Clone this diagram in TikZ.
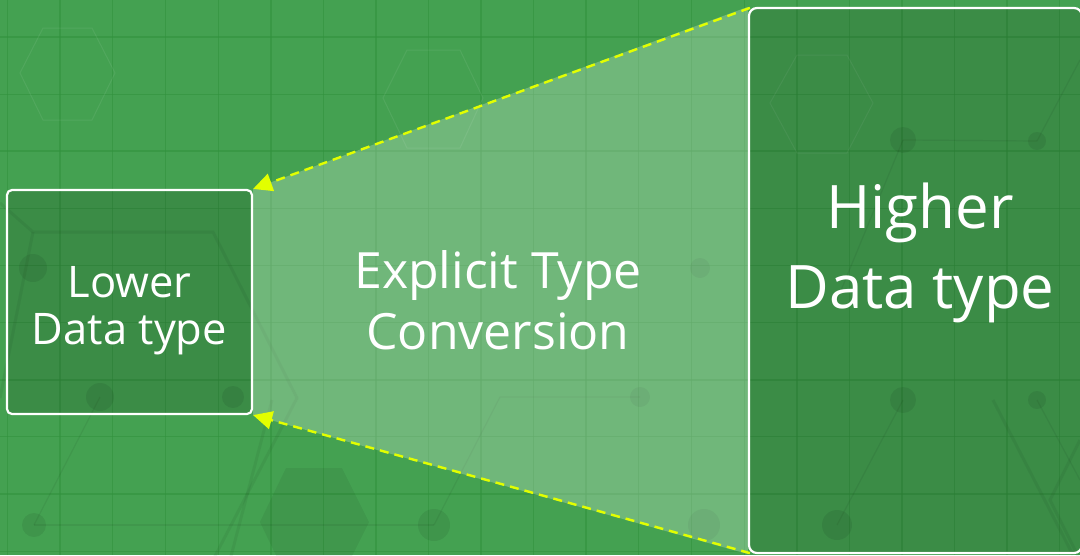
\documentclass[tikz,border=0pt]{standalone}
\usepackage{fontspec}
\setmainfont{Open Sans}
\usetikzlibrary{arrows.meta}
\definecolor{bggreen}{RGB}{68,161,81}
\definecolor{gridgreen}{RGB}{48,146,60}
\definecolor{arrowyellow}{RGB}{226,255,0}
\tikzset{
  databox/.style={draw=white, line width=2.2pt, rounded corners=5pt, fill=black, fill opacity=0.13, inner sep=0pt},
  boxtext/.style={text=white, align=center, inner sep=0pt},
  convarrow/.style={draw=arrowyellow, line width=2.4pt, dash pattern=on 9pt off 6pt,
    -{Triangle[length=19pt,width=18pt,fill=arrowyellow]}},
  gridline/.style={draw=gridgreen, line width=1pt, opacity=0.55},
  gridthick/.style={draw=gridgreen, line width=1.8pt, opacity=0.55},
  hexline/.style={draw=white, line width=1pt, opacity=0.07},
  bigline/.style={draw=black, line width=3pt, opacity=0.05},
  thinline/.style={draw=black, line width=1.2pt, opacity=0.06},
  dot/.style={fill=black, opacity=0.07},
}
\begin{document}
\begin{tikzpicture}[x=1pt,y=-1pt]
\useasboundingbox (0,0) rectangle (1080,555);
\clip (0,0) rectangle (1080,555);
\fill[bggreen] (0,0) rectangle (1080,555);
% grid
\foreach \i in {0,...,20} {
  \pgfmathsetmacro{\xx}{7.6+52.6*\i}
  \ifodd\i \draw[gridthick] (\xx,0) -- (\xx,555); \else \draw[gridline] (\xx,0) -- (\xx,555); \fi
}
\foreach \j in {0,...,10} {
  \pgfmathsetmacro{\yy}{-20+57.1*\j}
  \ifodd\j \draw[gridthick] (0,\yy) -- (1080,\yy); \else \draw[gridline] (0,\yy) -- (1080,\yy); \fi
}
% background decoration
\draw[hexline] (20,73) -- (43,28) -- (92,28) -- (115,73) -- (92,120) -- (43,120) -- cycle;
\draw[hexline] (383,98) -- (407,50) -- (460,50) -- (483,98) -- (460,148) -- (407,148) -- cycle;
\draw[hexline] (770,103) -- (797,55) -- (847,55) -- (873,103) -- (847,153) -- (797,153) -- cycle;
\fill[black, opacity=0.06] (260,522) -- (286,468) -- (342,468) -- (369,522) -- (342,576) -- (286,576) -- cycle;
\draw[bigline] (0,203) -- (33,232) -- (213,232) -- (297,398) -- (213,560);
\draw[bigline] (0,398) -- (33,232);
\draw[bigline] (272,400) -- (230,560);
\draw[bigline] (993,400) -- (1073,555);
\draw[bigline] (1080,440) -- (1050,500) -- (1080,560);
\draw[thinline] (903,140) -- (1037,141);
\draw[thinline] (903,140) -- (837,300);
\draw[thinline] (1037,141) -- (1080,60);
\draw[thinline] (903,400) -- (837,525);
\draw[thinline] (1037,400) -- (1080,480);
\draw[thinline] (100,397) -- (34,525);
\draw[thinline] (434,525) -- (500,397) -- (640,397);
\draw[thinline] (34,525) -- (434,525);
\fill[dot] (33,268) circle (14);
\fill[dot] (100,397) circle (14);
\fill[dot] (233,397) circle (11);
\fill[dot] (903,140) circle (13);
\fill[dot] (1037,141) circle (9);
\fill[dot] (837,525) circle (15);
\fill[dot] (903,400) circle (13);
\fill[dot] (1037,400) circle (9);
\fill[dot] (34,525) circle (12);
\fill[dot] (434,525) circle (16);
\fill[dot] (704,525) circle (16);
\fill[dot] (700,268) circle (10);
\fill[dot] (640,397) circle (10);
% boxes
\node[databox, minimum width=245pt, minimum height=224pt] (lower) at (129.5,302) {};
\node[databox, rounded corners=8pt, minimum width=333pt, minimum height=545pt] (higher) at (915.5,280.5) {};
% light funnel
\fill[white, fill opacity=0.24] (lower.north east) -- (higher.north west) -- (higher.south west) -- (lower.south east) -- cycle;
% texts
\node[boxtext, font=\fontsize{43.5}{47}\selectfont] (lowertext) at (129.5,311) {Lower\\Data type};
\node[boxtext, font=\fontsize{50}{61}\selectfont] (convtext) at (498,300) {Explicit Type\\Conversion};
\node[boxtext, font=\fontsize{60}{80}\selectfont] (highertext) at (920,253) {Higher\\Data type};
% arrows
\draw[convarrow] ([xshift=2pt,yshift=-1pt]higher.north west) -- (lower.north east);
\draw[convarrow] ([xshift=2pt,yshift=1pt]higher.south west) -- (lower.south east);
\end{tikzpicture}
\end{document}
